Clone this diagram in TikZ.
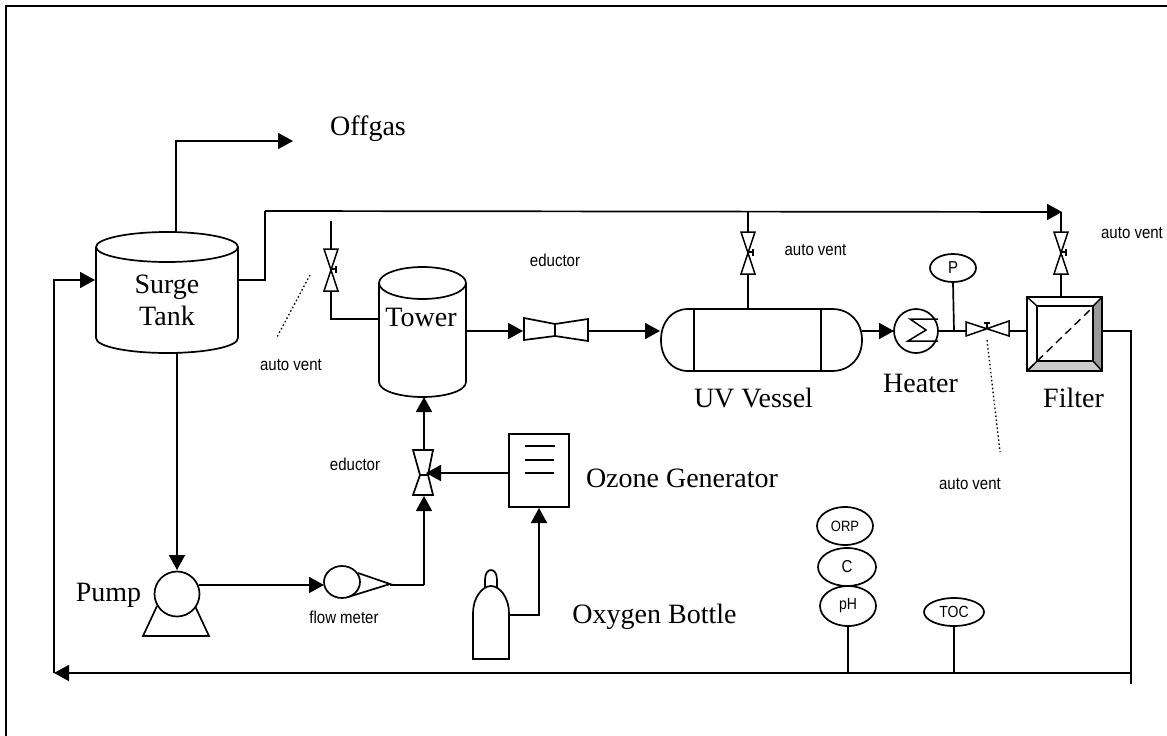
\documentclass[tikz,border=0pt]{standalone}
\usepackage{fontspec}
\setmainfont{Liberation Serif}
\newfontfamily\smallfont{Liberation Sans}
\newcommand{\tallbox}[1]{\scalebox{1}[1.15]{#1}}
\usetikzlibrary{arrows.meta,shapes.geometric}
\tikzset{
  pipe/.style={line width=1.7pt,line join=miter},
  flow/.style={pipe,-{Triangle[length=15pt,width=16pt]}},
  equip/.style={line width=1.7pt,fill=white,line join=miter},
  thinequip/.style={line width=1.5pt,fill=white},
  dots/.style={line width=1.3pt,dash pattern=on 1.6pt off 2.4pt},
  biglabel/.style={font=\fontsize{28pt}{30pt}\selectfont,anchor=base,inner sep=0pt},
  smalllabel/.style={font=\smallfont\fontsize{15pt}{17pt}\selectfont,anchor=base,inner sep=0pt},
  sensor/.style={ellipse,draw,line width=1.7pt,fill=white,inner sep=0pt,font=\smallfont\fontsize{14pt}{16pt}\selectfont},
  pics/vvalve/.style={code={
    \draw[thinequip,line join=miter] (-7,-21) -- (7,-21) -- (-7,21) -- (7,21) -- cycle;
    \draw[line width=1.5pt] (0,-1) -- (5,-1);
    \draw[line width=1.5pt] (5,-4) -- (5,3);
  }},
  pics/hvalve/.style={code={
    \draw[thinequip,line join=miter] (-21,-7) -- (-21,7) -- (22,-8) -- (22,7) -- cycle;
    \draw[line width=1.5pt] (0,0) -- (0,-6);
    \draw[line width=1.5pt] (-3,-6) -- (3,-6);
  }},
}
\begin{document}
\begin{tikzpicture}[x=1pt,y=-1pt]
\useasboundingbox (0,0) rectangle (1167,736);
\fill[white] (0,0) rectangle (1167,736);
% frame
\coordinate (frameA) at (6,736);
\coordinate (frameB) at (6,6);
\coordinate (frameC) at (1167,6);
\draw[line width=2.2pt] (frameA) -- (frameB) -- (frameC);
% connection points
\coordinate (tankTop) at (176,232);
\coordinate (tankBottom) at (177,353);
\coordinate (tankIn) at (95,280);
\coordinate (tankOut) at (238,280);
\coordinate (offgasEnd) at (293,141);
\coordinate (ventTopA) at (331,221);
\coordinate (ventA) at (331,270);
\coordinate (towerLeft) at (379,319);
\coordinate (towerBottom) at (424,397);
\coordinate (towerRight) at (466,331);
\coordinate (eductH) at (523,331);
\coordinate (eductHr) at (588,331);
\coordinate (uvLeft) at (660,331);
\coordinate (uvRight) at (862,331);
\coordinate (uvTop) at (748,309);
\coordinate (ventB) at (748,253);
\coordinate (heaterLeft) at (894,331);
\coordinate (heaterRight) at (938,331);
\coordinate (valveH) at (987,329);
\coordinate (valveHl) at (966,331);
\coordinate (valveHr) at (1009,331);
\coordinate (filterLeft) at (1027,331);
\coordinate (filterRight) at (1102,331);
\coordinate (filterTop) at (1061,297);
\coordinate (ventC) at (1061,253);
\coordinate (mainStart) at (265,211);
\coordinate (mainTip) at (1062,212);
\coordinate (returnEnd) at (1131,684);
\coordinate (returnTip) at (54,673);
\coordinate (pumpTop) at (177,570);
\coordinate (pumpRight) at (199,585);
\coordinate (fmLeft) at (324,585);
\coordinate (fmRight) at (390,585);
\coordinate (eductVtop) at (424,450);
\coordinate (eductVbottom) at (424,496);
\coordinate (eductVside) at (426,473);
\coordinate (ozoneLeft) at (509,473);
\coordinate (ozoneBottom) at (539,508);
\coordinate (bottleRight) at (509,615);
% sensors
\node[sensor,minimum width=56pt,minimum height=38pt] (orp) at (845,526) {\tallbox{\fontsize{13pt}{15pt}\selectfont ORP}};
\node[sensor,minimum width=58pt,minimum height=38pt] (cond) at (847,567) {\tallbox{\fontsize{15pt}{17pt}\selectfont C}};
\node[sensor,minimum width=56pt,minimum height=40pt] (ph) at (848,606) {\tallbox{pH}};
\node[sensor,minimum width=60pt,minimum height=28pt] (toc) at (954,612) {\tallbox{TOC}};
\node[sensor,minimum width=46pt,minimum height=28pt] (press) at (953,268) {\tallbox{\fontsize{15pt}{17pt}\selectfont P}};
% connectors
\draw[flow] (tankTop) |- (offgasEnd);
\draw[pipe] (tankOut) -- (265,280) -- (mainStart);
\draw[flow] (mainStart) -- (mainTip);
\draw[pipe] (1061,212) -- (filterTop);
\draw[pipe] (filterRight) -| (returnEnd);
\draw[flow] (1131,673) -- (returnTip);
\draw[flow] (54,673) |- (tankIn);
\draw[flow] (tankBottom) -- (pumpTop);
\draw[pipe] (ventTopA) -- (331,319) -- (towerLeft);
\draw[flow] (towerRight) -- (eductH);
\draw[flow] (eductHr) -- (uvLeft);
\draw[flow] (uvRight) -- (heaterLeft);
\draw[pipe] (heaterRight) -- (valveHl);
\draw[pipe] (valveHr) -- (filterLeft);
\draw[pipe] (748,211.5) -- (uvTop);
\draw[flow] (pumpRight) -- (fmLeft);
\draw[pipe] (fmRight) -- (424,585);
\draw[flow] (424,585) -- (eductVbottom);
\draw[flow] (eductVtop) -- (towerBottom);
\draw[flow] (bottleRight) -| (ozoneBottom);
\draw[pipe] (press.south) -- (954,331);
\draw[pipe] (ph.south) -- (848,673);
\draw[pipe] (toc.south) -- (954,673);
\draw[dots] (310,275) -- (277,337);
\draw[dots] (987,340) -- (1000,452);
% surge tank
\draw[equip] (96,247) -- (96,338) .. controls (96,347) and (130,353) .. (167,353) .. controls (204,353) and (238,347) .. (238,338) -- (238,247);
\draw[equip] (167,247) ellipse [x radius=71pt,y radius=15pt];
% tower
\draw[equip] (379,283) -- (379,382) .. controls (379,391) and (400,397) .. (422.5,397) .. controls (445,397) and (466,391) .. (466,382) -- (466,283);
\draw[equip] (422.5,283) ellipse [x radius=43.5pt,y radius=16pt];
% valves
\pic at (ventA) {vvalve};
\pic at (ventB) {vvalve};
\pic at (ventC) {vvalve};
\pic at (valveH) {hvalve};
% eductor horizontal
\draw[equip] (524,318) -- (555,324) -- (588,319) -- (588,341) -- (555,336) -- (524,340) -- cycle;
\draw[line width=1.5pt] (555,324) -- (555,336);
% eductor vertical
\draw[equip] (413,450) -- (433,450) -- (428,475) -- (433,495) -- (413,495) -- (420,475) -- cycle;
\draw[line width=1.5pt] (420,475) -- (428,475);
% arrow head over eductor
\draw[flow] (ozoneLeft) -- (eductVside);
% UV vessel
\draw[equip] (688,309) -- (832,309) .. controls (850,309) and (862,322) .. (862,340) .. controls (862,358) and (850,371) .. (832,371) -- (688,371) .. controls (672,371) and (661,358) .. (661,340) .. controls (661,322) and (672,309) .. (688,309) -- cycle;
\draw[pipe] (694,309) -- (694,371);
\draw[pipe] (821,309) -- (821,371);
% heater
\draw[equip] (916,331) circle [radius=22pt];
\draw[line width=1.5pt] (938,319) -- (910,319) -- (926,330) -- (908,341) -- (938,341);
% filter
\draw[equip] (1027,297) rectangle (1102,371);
\fill[black!40] (1102,297) -- (1093,306) -- (1093,361) -- (1102,371) -- cycle;
\fill[black!20] (1027,371) -- (1037,361) -- (1093,361) -- (1102,371) -- cycle;
\draw[line width=1.4pt] (1037,306) rectangle (1093,361);
\draw[line width=1.4pt] (1027,297) -- (1037,306);
\draw[line width=1.4pt] (1102,297) -- (1093,306);
\draw[line width=1.4pt] (1027,371) -- (1037,361);
\draw[line width=1.4pt] (1102,371) -- (1093,361);
\draw[equip,fill=none] (1027,297) rectangle (1102,371);
\draw[line width=1.4pt,dash pattern=on 8pt off 5pt] (1028,370) -- (1093,307);
% pump
\draw[equip] (157,606) -- (143,636) -- (209,636) -- (195,606);
\draw[equip] (177,594) circle [radius=22.5pt];
% flow meter
\draw[equip] (358,573) -- (390,584) -- (348,597);
\draw[equip] (342,582) ellipse [x radius=18pt,y radius=16pt];
% ozone generator
\draw[equip] (509,434) rectangle (569,507);
\draw[line width=1.5pt] (525,446) -- (555,446);
\draw[line width=1.5pt] (525,460) -- (554,460);
\draw[line width=1.5pt] (525,473) -- (554,473);
% bottle
\draw[equip] (485,587) -- (485,580) .. controls (485,573) and (488,570) .. (491,570) .. controls (494,570) and (497,573) .. (497,580) -- (497,587);
\draw[equip] (473,659) -- (473,613) .. controls (473,598) and (482,586) .. (491,586) .. controls (500,586) and (509,598) .. (509,613) -- (509,659) -- cycle;
% labels
\node[biglabel] (lSurge) at (167,293) {Surge};
\node[biglabel] (lTank) at (167,325) {Tank};
\node[biglabel] (lOffgas) at (368,135) {Offgas};
\node[biglabel] (lTower) at (421,326) {Tower};
\node[biglabel] (lPump) at (108.5,601) {Pump};
\node[biglabel] (lUV) at (753.5,407) {UV Vessel};
\node[biglabel] (lHeater) at (920.5,392) {Heater};
\node[biglabel] (lFilter) at (1073.5,407) {Filter};
\node[biglabel] (lOzone) at (682,487) {Ozone Generator};
\node[biglabel] (lOxygen) at (654.5,623) {Oxygen Bottle};
\node[smalllabel] (e1) at (555,266) {\tallbox{eductor}};
\node[smalllabel] (e2) at (355,470) {\tallbox{eductor}};
\node[smalllabel] (a1) at (291,370) {\tallbox{auto vent}};
\node[smalllabel] (a2) at (815.5,255) {\tallbox{auto vent}};
\node[smalllabel] (a3) at (1132,238) {\tallbox{auto vent}};
\node[smalllabel] (a4) at (970,489) {\tallbox{auto vent}};
\node[smalllabel] (fm) at (344,623) {\tallbox{flow meter}};
\end{tikzpicture}
\end{document}
